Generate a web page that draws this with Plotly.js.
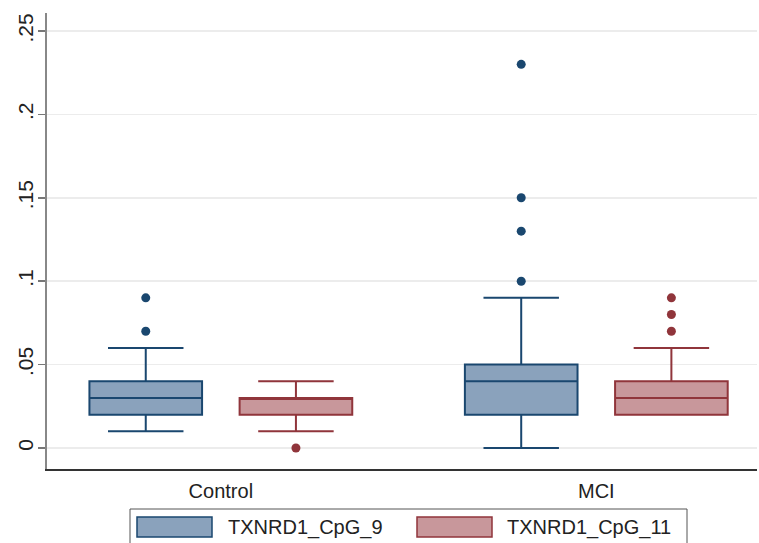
<!DOCTYPE html>
<html>
<head>
<meta charset="utf-8">
<script src="https://cdn.plot.ly/plotly-3.0.1.min.js"></script>
<style>html,body{margin:0;padding:0;background:#fff}#chart{width:759px;height:543px}</style>
</head>
<body>
<div id="chart"></div>
<script>
// ---- data ----
const categories = ['Control', 'MCI'];
const seriesNames = ['TXNRD1_CpG_9', 'TXNRD1_CpG_11'];

const cpg9_q1 = [0.02, 0.02];
const cpg9_median = [0.03, 0.04];
const cpg9_q3 = [0.04, 0.05];
const cpg9_lower = [0.01, 0.00];
const cpg9_upper = [0.06, 0.09];
const cpg9_outliers = [[0.07, 0.09], [0.10, 0.13, 0.15, 0.23]];

const cpg11_q1 = [0.02, 0.02];
const cpg11_median = [0.03, 0.03];
const cpg11_q3 = [0.03, 0.04];
const cpg11_lower = [0.01, 0.02];
const cpg11_upper = [0.04, 0.06];
const cpg11_outliers = [[0.00], [0.07, 0.08, 0.09]];

const yTickVals = [0, 0.05, 0.1, 0.15, 0.2, 0.25];
const yTickText = ['0', '.05', '.1', '.15', '.2', '.25'];

// ---- styling ----
const FONT = 'Liberation Sans, Arial, sans-serif';
const blueLine = '#1a476f', blueFill = '#8aa2bc';
const redLine = '#90353b', redFill = '#c8979b';

function boxTrace(name, q1, med, q3, lo, hi, pts, line, fill) {
  return {
    type: 'box', name: name, x: categories, y: pts,
    q1: q1, median: med, q3: q3, lowerfence: lo, upperfence: hi,
    boxpoints: 'all', jitter: 0, pointpos: 0,
    marker: {color: line, size: 9, line: {width: 0}},
    line: {color: line, width: 2},
    fillcolor: fill, whiskerwidth: 0.67,
    hoverinfo: 'y', showlegend: false
  };
}

const traces = [
  boxTrace(seriesNames[0], cpg9_q1, cpg9_median, cpg9_q3, cpg9_lower, cpg9_upper, cpg9_outliers, blueLine, blueFill),
  boxTrace(seriesNames[1], cpg11_q1, cpg11_median, cpg11_q3, cpg11_lower, cpg11_upper, cpg11_outliers, redLine, redFill)
];

// ---- layout ----
const W = 759, H = 543, ML = 47, MR = 2, MT = 13, MB = 74;
const PW = W - ML - MR, PH = H - MT - MB;
const px = v => (v - ML) / PW;
const py = v => (H - MB - v) / PH;

const shapes = [
  {type: 'rect', xref: 'paper', yref: 'paper', x0: px(130), x1: px(687), y0: py(509), y1: py(560),
   line: {color: '#555', width: 1}, fillcolor: 'rgba(0,0,0,0)'},
  {type: 'rect', xref: 'paper', yref: 'paper', x0: px(137), x1: px(212), y0: py(517), y1: py(537),
   line: {color: blueLine, width: 1.5}, fillcolor: blueFill},
  {type: 'rect', xref: 'paper', yref: 'paper', x0: px(417), x1: px(492), y0: py(517), y1: py(537),
   line: {color: redLine, width: 1.5}, fillcolor: redFill}
];
const annotations = [
  {xref: 'paper', yref: 'paper', x: px(226), y: py(527), text: seriesNames[0], showarrow: false,
   xanchor: 'left', yanchor: 'middle', font: {family: FONT, size: 20, color: '#222'}},
  {xref: 'paper', yref: 'paper', x: px(505), y: py(527), text: seriesNames[1], showarrow: false,
   xanchor: 'left', yanchor: 'middle', font: {family: FONT, size: 20, color: '#222'}}
];

const layout = {
  width: W, height: H,
  margin: {l: ML, r: MR, t: MT, b: MB, pad: 0},
  paper_bgcolor: '#fff', plot_bgcolor: '#fff',
  boxmode: 'group', boxgap: 0.2, boxgroupgap: 0.25,
  showlegend: false,
  font: {family: FONT, size: 20, color: '#222'},
  xaxis: {
    type: 'category', range: [-0.463, 1.428],
    showline: true, linecolor: '#333', linewidth: 2,
    showgrid: false, zeroline: false,
    ticks: 'outside', ticklen: 3, tickcolor: 'rgba(0,0,0,0)',
    tickfont: {family: FONT, size: 20, color: '#222'}
  },
  yaxis: {
    range: [-0.0126, 0.2608],
    tickvals: yTickVals, ticktext: yTickText, tickangle: -90,
    showline: true, linecolor: '#888', linewidth: 2,
    showgrid: true, gridcolor: '#ececec', gridwidth: 1.5,
    zeroline: false,
    ticks: 'outside', ticklen: 7, tickcolor: '#777', tickwidth: 1.5,
    ticklabelstandoff: -3,
    tickfont: {family: FONT, size: 21, color: '#222'}
  },
  shapes: shapes, annotations: annotations
};

Plotly.newPlot('chart', traces, layout, {displayModeBar: false, staticPlot: true});
</script>
</body>
</html>
